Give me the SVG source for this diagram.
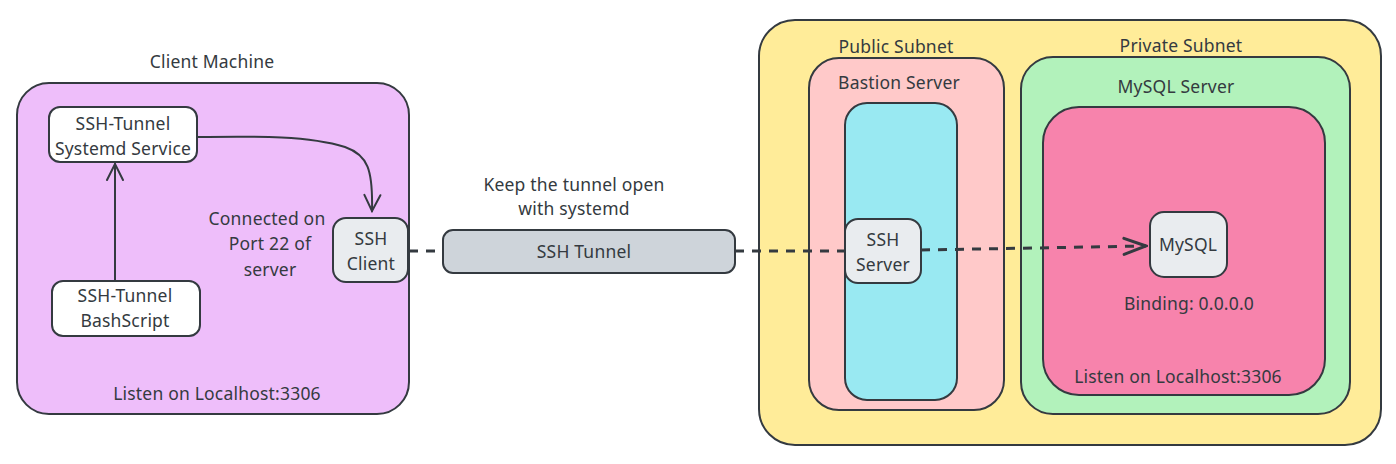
<svg xmlns="http://www.w3.org/2000/svg" width="1396" height="464" viewBox="0 0 1396 464">
<defs>
<style>
text{font-family:"Noto Sans","Open Sans",sans-serif;font-size:17.5px;letter-spacing:0.2px;fill:#343a40;text-anchor:middle;dominant-baseline:middle;transform:translateY(2px)}
.box{stroke:#343a40;stroke-width:2}
.conn{fill:none;stroke:#343a40;stroke-width:2;stroke-linecap:round;stroke-linejoin:round}
.dash{fill:none;stroke:#343a40;stroke-width:3;stroke-dasharray:9 8}
</style>
<marker id="open" viewBox="0 0 20 20" refX="18" refY="10" markerWidth="20" markerHeight="20" markerUnits="userSpaceOnUse" orient="auto">
<path d="M2 2 L18 10 L2 18" fill="none" stroke="#343a40" stroke-width="2" stroke-linecap="round"/>
</marker>
<marker id="open3" viewBox="0 0 26 20" refX="24" refY="10" markerWidth="26" markerHeight="20" markerUnits="userSpaceOnUse" orient="auto">
<path d="M2 2 L24 10 L2 18" fill="none" stroke="#343a40" stroke-width="3" stroke-linecap="round"/>
</marker>
</defs>
<rect width="1396" height="464" fill="#ffffff"/>

<g id="client-machine">
<rect class="box" x="17" y="83" width="392" height="331" rx="32" fill="#eebefa"/>
<text x="212" y="61">Client Machine</text>
<text x="217" y="393">Listen on Localhost:3306</text>
<text x="267" y="218">Connected on</text>
<text x="270" y="243">Port 22 of</text>
<text x="270" y="269">server</text>
</g>

<g id="systemd-service">
<rect class="box" x="49" y="107" width="148" height="55" rx="11" fill="#ffffff"/>
<text x="123" y="123">SSH-Tunnel</text>
<text x="123" y="148">Systemd Service</text>
</g>

<g id="bash-script">
<rect class="box" x="52" y="281" width="148" height="55" rx="11" fill="#ffffff"/>
<text x="125" y="295">SSH-Tunnel</text>
<text x="125" y="320">BashScript</text>
</g>

<g id="ssh-client">
<rect class="box" x="333" y="218" width="75" height="64" rx="13" fill="#e9ecef"/>
<text x="371" y="238">SSH</text>
<text x="371" y="263">Client</text>
</g>

<g id="ssh-tunnel">
<text x="574" y="184">Keep the tunnel open</text>
<text x="574" y="208">with systemd</text>
<rect class="box" x="443" y="230" width="292" height="43" rx="10" fill="#ced4da"/>
<text x="584" y="251">SSH Tunnel</text>
</g>

<g id="vpc">
<rect class="box" x="759" y="20" width="622" height="425" rx="36" fill="#ffec99"/>
<text x="896" y="46">Public Subnet</text>
<text x="1181" y="45">Private Subnet</text>
</g>

<g id="bastion-server">
<rect class="box" x="809" y="58" width="195" height="352" rx="30" fill="#ffc9c9"/>
<text x="899" y="82">Bastion Server</text>
<rect class="box" x="845" y="103" width="112" height="297" rx="22" fill="#99e9f2"/>
</g>

<g id="ssh-server">
<rect class="box" x="845" y="219" width="76" height="64" rx="13" fill="#e9ecef"/>
<text x="883" y="239">SSH</text>
<text x="883" y="264">Server</text>
</g>

<g id="mysql-server">
<rect class="box" x="1021" y="57" width="329" height="357" rx="32" fill="#b2f2bb"/>
<text x="1176" y="86">MySQL Server</text>
<rect class="box" x="1043" y="107" width="282" height="288" rx="36" fill="#f783ac"/>
<text x="1189" y="303">Binding: 0.0.0.0</text>
<text x="1178" y="376">Listen on Localhost:3306</text>
</g>

<g id="mysql">
<rect class="box" x="1150" y="212" width="77" height="65" rx="14" fill="#e9ecef"/>
<text x="1188" y="244">MySQL</text>
</g>

<g id="connectors">
<path class="conn" d="M115 281 L115 164" marker-end="url(#open)"/>
<path class="conn" d="M197 137 C260 136 310 136 345 147 C368 155 373 170 372 211" marker-end="url(#open)"/>
<path class="dash" d="M409 251 L443 251"/>
<path class="dash" d="M735 251 L845 251"/>
<path class="dash" d="M921 250 L1146 246" marker-end="url(#open3)"/>
</g>
</svg>
